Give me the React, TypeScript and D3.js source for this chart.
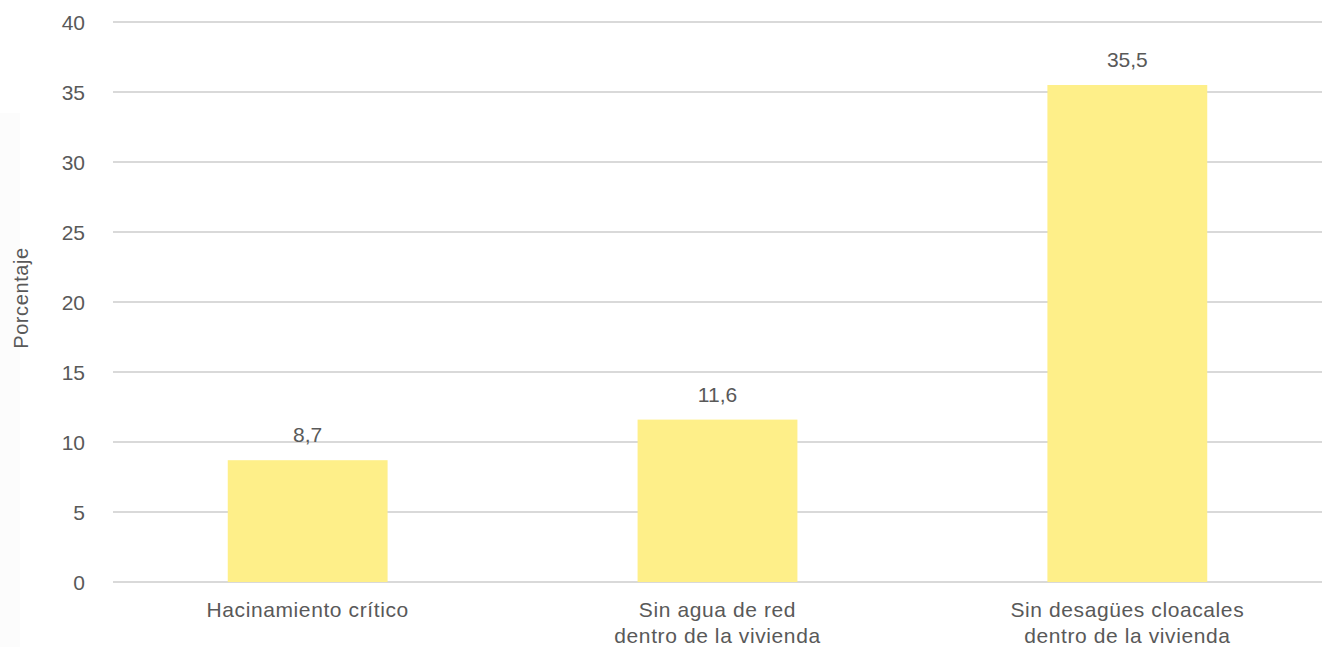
import React from "react";
import * as d3 from "d3";

const categories: string[][] = [
  ["Hacinamiento crítico"],
  ["Sin agua de red", "dentro de la vivienda"],
  ["Sin desagües cloacales", "dentro de la vivienda"],
];
const values: number[] = [8.7, 11.6, 35.5];
const valueLabels: string[] = ["8,7", "11,6", "35,5"];
const yTicks: number[] = [0, 5, 10, 15, 20, 25, 30, 35, 40];
const yTitle = "Porcentaje";

const W = 1322;
const H = 647;
const FONT = "'Liberation Sans', Arial, Helvetica, sans-serif";
const TEXT = "#595959";

export default function App() {
  const keys = categories.map((c) => c.join(" "));
  const x = d3
    .scaleBand<string>()
    .domain(keys)
    .range([113, 1322])
    .paddingInner(0.61)
    .paddingOuter(0.28);
  const y = d3.scaleLinear().domain([0, 40]).range([582, 22]);

  return (
    <svg
      width={W}
      height={H}
      style={{ position: "absolute", left: 0, top: 0, display: "block", background: "#fff" }}
      fontFamily={FONT}
    >
      <rect x={0} y={113} width={20} height={H - 113} fill="#fcfcfc" />
      {yTicks.map((t) => (
        <g key={t}>
          <line x1={113} x2={W} y1={y(t)} y2={y(t)} stroke="#d9d9d9" strokeWidth={2} />
          <text x={85} y={y(t)} dy="0.36em" textAnchor="end" fontSize={21} fill={TEXT}>
            {t}
          </text>
        </g>
      ))}
      <text
        transform={`translate(28,298) rotate(-90)`}
        textAnchor="middle"
        fontSize={20}
        letterSpacing={0.6}
        fill={TEXT}
      >
        {yTitle}
      </text>
      {values.map((v, i) => {
        const k = keys[i];
        const bx = x(k) as number;
        const bw = x.bandwidth();
        return (
          <g key={k}>
            <rect x={bx} y={y(v)} width={bw} height={y(0) - y(v)} fill="#FEEF89" />
            <text
              x={bx + bw / 2}
              y={y(v) - 18}
              textAnchor="middle"
              fontSize={21}
              fill={TEXT}
            >
              {valueLabels[i]}
            </text>
            {categories[i].map((line, j) => (
              <text
                key={j}
                x={bx + bw / 2}
                y={617 + j * 26}
                textAnchor="middle"
                fontSize={21}
                letterSpacing={0.6}
                fill={TEXT}
              >
                {line}
              </text>
            ))}
          </g>
        );
      })}
    </svg>
  );
}
